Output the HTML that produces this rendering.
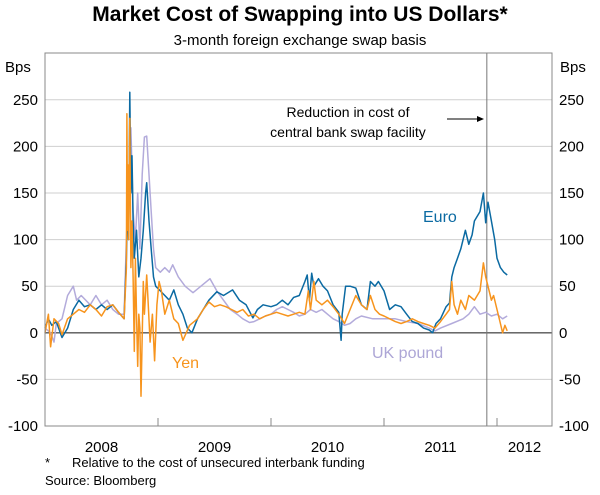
<!DOCTYPE html>
<html><head><meta charset="utf-8">
<style>
body{margin:0;background:#fff;}
svg text{font-family:"Liberation Sans",Arial,sans-serif;}
</style></head>
<body>
<svg id="chart" width="600" height="490" viewBox="0 0 600 490" xmlns="http://www.w3.org/2000/svg">
<text x="300" y="21" font-size="21" font-weight="bold" text-anchor="middle" fill="#000">Market Cost of Swapping into US Dollars*</text>
<text x="300" y="45" font-size="15" text-anchor="middle" fill="#000">3-month foreign exchange swap basis</text>
<text x="5" y="72" font-size="15" fill="#000">Bps</text>
<text x="560" y="72" font-size="15" fill="#000">Bps</text>
<g id="grid"></g>
<g id="series"></g>
<rect x="45" y="53" width="507" height="373" fill="none" stroke="#888" stroke-width="1"/>
<g id="axes"></g>
<text font-size="14" text-anchor="middle" fill="#000"><tspan x="348" y="117">Reduction in cost of</tspan><tspan x="348" y="137">central bank swap facility</tspan></text>
<line x1="447" y1="119" x2="479" y2="119" stroke="#000" stroke-width="1"/>
<polygon points="484,119 477,116 477,122" fill="#000"/>
<text x="423" y="222" font-size="16" fill="#0b6aa2">Euro</text>
<text x="172" y="368" font-size="16" fill="#f7941d">Yen</text>
<text x="372" y="358" font-size="16" fill="#ada6d6">UK pound</text>
<text x="45" y="467" font-size="13" fill="#000">*</text>
<text x="72" y="467" font-size="13" fill="#000">Relative to the cost of unsecured interbank funding</text>
<text x="45" y="485" font-size="13" fill="#000">Source: Bloomberg</text>
</svg>
<script>
const yTicks=[-100,-50,0,50,100,150,200,250];
const yearLabels=["2008","2009","2010","2011","2012"];
const facilityDate=2011.91;
const euroT=[2008.00,2008.03,2008.06,2008.10,2008.15,2008.20,2008.25,2008.30,2008.35,2008.40,2008.45,2008.50,2008.55,2008.60,2008.65,2008.70,2008.72,2008.73,2008.74,2008.75,2008.76,2008.77,2008.78,2008.79,2008.81,2008.83,2008.85,2008.87,2008.89,2008.90,2008.92,2008.94,2008.96,2008.98,2009.02,2009.06,2009.10,2009.14,2009.18,2009.22,2009.26,2009.30,2009.35,2009.40,2009.45,2009.52,2009.58,2009.66,2009.72,2009.78,2009.84,2009.88,2009.93,2010.00,2010.05,2010.10,2010.15,2010.20,2010.25,2010.30,2010.32,2010.34,2010.36,2010.38,2010.42,2010.46,2010.50,2010.55,2010.60,2010.62,2010.63,2010.66,2010.70,2010.75,2010.80,2010.85,2010.88,2010.92,2010.95,2011.00,2011.05,2011.10,2011.15,2011.20,2011.25,2011.30,2011.35,2011.40,2011.43,2011.46,2011.50,2011.55,2011.58,2011.60,2011.62,2011.65,2011.68,2011.70,2011.72,2011.75,2011.78,2011.80,2011.85,2011.88,2011.90,2011.92,2011.95,2011.98,2012.00,2012.03,2012.06,2012.09];
const euroV=[5,15,8,12,-5,5,25,35,28,30,25,30,25,30,22,15,80,140,100,258,150,190,120,80,110,60,80,110,150,161,120,90,60,50,45,40,35,46,30,20,5,0,15,25,35,44,40,46,35,30,16,25,30,28,30,35,30,38,40,55,62,35,64,50,58,50,45,30,22,-8,20,50,50,48,30,25,55,50,55,45,25,30,28,20,12,10,5,3,0,10,15,28,32,60,70,80,90,100,110,95,105,120,130,150,118,140,120,100,80,70,65,62];
const yenT=[2008.00,2008.03,2008.05,2008.08,2008.12,2008.15,2008.20,2008.25,2008.30,2008.35,2008.40,2008.45,2008.50,2008.55,2008.60,2008.65,2008.70,2008.72,2008.725,2008.73,2008.735,2008.74,2008.75,2008.76,2008.77,2008.78,2008.79,2008.80,2008.81,2008.82,2008.83,2008.84,2008.85,2008.87,2008.88,2008.90,2008.91,2008.93,2008.95,2008.97,2008.99,2009.01,2009.03,2009.06,2009.10,2009.14,2009.18,2009.22,2009.28,2009.35,2009.40,2009.45,2009.50,2009.55,2009.60,2009.65,2009.70,2009.75,2009.80,2009.85,2009.90,2009.95,2010.00,2010.05,2010.10,2010.15,2010.20,2010.25,2010.30,2010.33,2010.35,2010.38,2010.40,2010.45,2010.50,2010.55,2010.60,2010.65,2010.70,2010.75,2010.80,2010.85,2010.88,2010.92,2010.96,2011.00,2011.05,2011.10,2011.15,2011.20,2011.25,2011.30,2011.35,2011.40,2011.45,2011.50,2011.55,2011.58,2011.60,2011.62,2011.65,2011.68,2011.72,2011.75,2011.80,2011.85,2011.88,2011.90,2011.92,2011.95,2011.97,2012.00,2012.03,2012.05,2012.07,2012.09];
const yenV=[0,20,-15,15,10,-2,15,20,25,22,30,25,18,28,30,22,15,70,235,110,180,100,230,70,120,60,-20,80,20,-36,20,5,-68,55,20,62,40,-10,20,-30,30,55,45,20,35,15,10,-8,8,15,25,33,28,30,28,25,22,25,18,20,15,18,20,22,20,18,20,22,20,45,25,55,35,30,35,28,20,10,25,40,30,25,40,25,20,18,15,12,10,12,15,12,10,8,5,12,20,25,55,30,20,35,25,40,35,45,75,60,50,35,40,25,10,0,8,2];
const ukT=[2008.00,2008.05,2008.08,2008.10,2008.15,2008.20,2008.25,2008.28,2008.32,2008.40,2008.45,2008.50,2008.55,2008.60,2008.65,2008.70,2008.72,2008.74,2008.76,2008.78,2008.80,2008.82,2008.84,2008.86,2008.88,2008.90,2008.92,2008.94,2008.96,2008.98,2009.02,2009.06,2009.10,2009.13,2009.18,2009.24,2009.31,2009.38,2009.46,2009.52,2009.58,2009.64,2009.70,2009.75,2009.81,2009.85,2009.90,2009.95,2010.00,2010.05,2010.10,2010.15,2010.20,2010.25,2010.30,2010.35,2010.40,2010.45,2010.50,2010.55,2010.60,2010.65,2010.70,2010.75,2010.80,2010.90,2011.00,2011.10,2011.20,2011.30,2011.40,2011.45,2011.50,2011.60,2011.70,2011.75,2011.80,2011.85,2011.90,2011.95,2012.00,2012.05,2012.09];
const ukV=[5,0,-10,10,15,40,50,35,40,30,40,30,35,25,20,20,100,160,220,130,100,150,90,170,210,211,170,130,90,70,65,70,65,73,60,50,43,50,58,45,35,25,20,15,11,12,15,18,20,25,28,25,22,18,20,25,22,25,20,15,12,8,10,15,18,15,15,15,12,10,5,2,5,10,15,20,28,20,22,18,20,15,18,25];

const NS="http://www.w3.org/2000/svg";
const L=45,R=552,T=53,B=426;
function xScale(t){return L+(t-2008)*113;}
function yScale(v){return 332.8-v*0.932;}
const svg=document.getElementById('chart');
const grid=document.getElementById('grid');
const axes=document.getElementById('axes');
const ser=document.getElementById('series');
function mk(tag,attrs,parent){const e=document.createElementNS(NS,tag);for(const k in attrs)e.setAttribute(k,attrs[k]);parent.appendChild(e);return e;}
yTicks.forEach(v=>{
  const y=yScale(v);
  const gl=mk('line',{x1:L,x2:R,y1:y,y2:y,stroke:v===0?'#555':'#cfcfcf','stroke-width':v===0?1.3:1},grid);
  
  
  const tl=mk('text',{x:38,y:y+5,'font-size':15,'text-anchor':'end',fill:'#000'},axes);
  tl.textContent=v;
  
  
  const tr=mk('text',{x:559,y:y+5,'font-size':15,fill:'#000'},axes);
  tr.textContent=v;
  
  
});
yearLabels.forEach((lab,i)=>{
  const yr=2008+i;
  if(i>0){const tk=mk('line',{x1:xScale(yr),x2:xScale(yr),y1:B,y2:B-8,stroke:'#888'},axes);
    
    }
  const cx=i<4?xScale(yr+0.5):(xScale(yr)+R)/2;
  const t=mk('text',{x:cx,y:452,'font-size':15,'text-anchor':'middle',fill:'#000'},axes);
  t.textContent=lab;
  
  
});
const vl=mk('line',{x1:xScale(facilityDate),x2:xScale(facilityDate),y1:T,y2:B,stroke:'#777','stroke-width':1},grid);


function line(ts,vs,color,name){
  const d=ts.map((t,i)=>(i?'L':'M')+xScale(t).toFixed(1)+','+yScale(vs[i]).toFixed(1)).join('');
  const p=mk('path',{d:d,fill:'none',stroke:color,'stroke-width':1.5,'stroke-linejoin':'round'},ser);
  
  
}
line(ukT,ukV,'#b3abdb','uk-pound-line');
line(euroT,euroV,'#0b6aa2','euro-line');
line(yenT,yenV,'#f7941d','yen-line');
</script>
</body></html>
